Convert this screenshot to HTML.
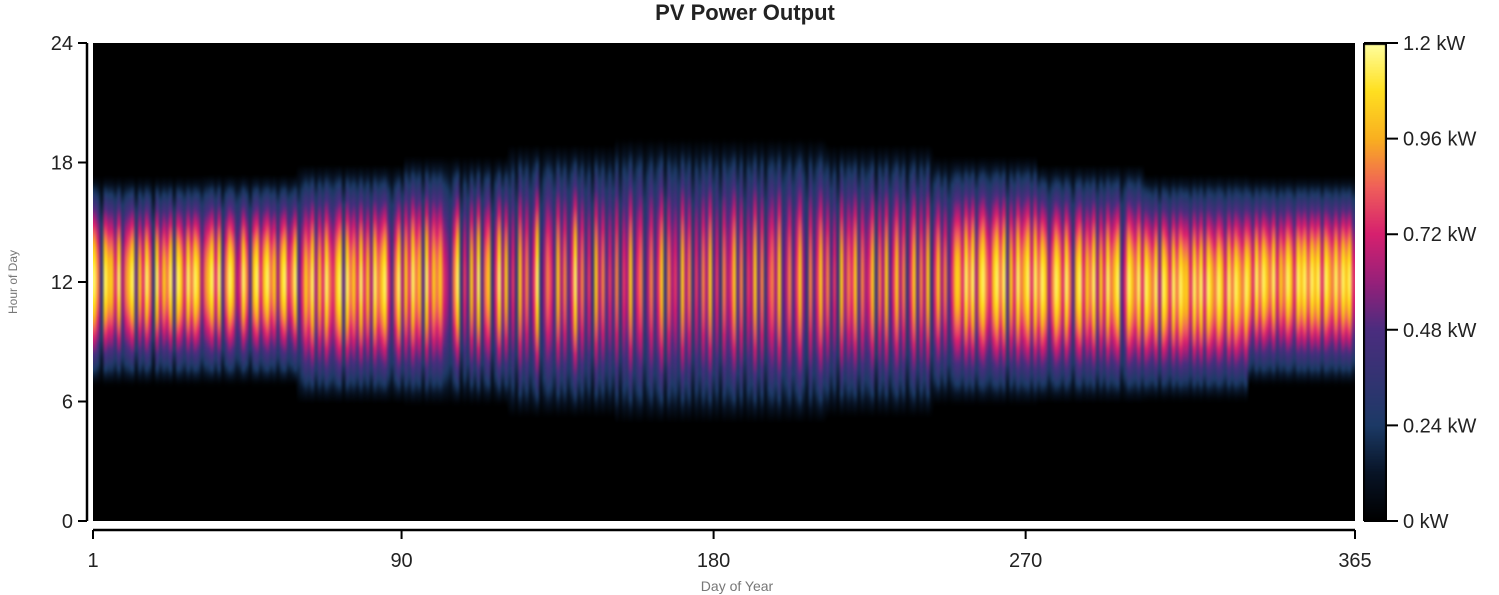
<!DOCTYPE html>
<html><head><meta charset="utf-8">
<style>
body{margin:0;background:#fff;width:1499px;height:595px;overflow:hidden;font-family:"Liberation Sans",sans-serif;}
#wrap{position:relative;width:1499px;height:595px;}
canvas{position:absolute;}
.t{position:absolute;color:#222;font-size:18px;}
</style></head><body>
<div id="wrap">
<div class="t" style="left:0;width:1490px;text-align:center;top:0;font-size:22px;font-weight:bold;">PV Power Output</div>
<canvas id="hm" width="1262" height="478" style="left:93px;top:43px;"></canvas>
<svg id="ax" width="1499" height="595" style="position:absolute;left:0;top:0"></svg>
<canvas id="cb" width="24" height="478" style="left:1363px;top:43px;"></canvas>
</div>
<script>
const months=[1,32,60,91,121,152,182,213,244,274,305,335];
const sunrise=[6.8,6.8,5.9,5.8,5.2,4.9,4.9,5.2,5.8,5.9,6.0,6.8];
const sunset=[17.3,17.4,17.9,18.3,18.9,19.2,19.2,18.9,18.3,17.9,17.4,17.3];
const clear=("97398869578948697396879498697985789694798569748968"+
"97858967946879586976894978696859789647958697849687"+
"86547936485947836958463857469357648574695746385746"+
"47365846735746837564857364758463756847365847367584"+
"57468537468574638576847568375846857368475836857468"+
"86979589768979486978969798579869748968795869789469"+
"87969879598697988697969879869798798697987968798698"+
"97989698797989697969879869798").slice(0,365).split('').map(Number);
const cbTicks=[0,0.24,0.48,0.72,0.96,1.2];
const yTicks=[0,6,12,18,24];
const xTicks=[1,90,180,270,365];
const vmax=1.2;
const stops=[[0,[0,0,0]],[0.1,[8,20,38]],[0.2,[28,58,102]],[0.4,[75,45,127]],[0.5,[150,32,122]],[0.6,[214,32,111]],[0.7,[240,96,90]],[0.8,[249,176,32]],[0.9,[255,224,32]],[1,[255,255,160]]];
function cmap(t){t=Math.max(0,Math.min(1,t));for(let i=1;i<stops.length;i++){if(t<=stops[i][0]){const a=stops[i-1],b=stops[i],f=(t-a[0])/(b[0]-a[0]);return a[1].map((v,k)=>v+(b[1][k]-v)*f);}}return stops[stops.length-1][1];}
function monthOf(d){let m=0;for(let i=0;i<12;i++)if(d>=months[i])m=i;return m;}
const W=1262,H=478;
const xs=d=>(d-1)/364*W, ys=h=>H-h/24*H;
const small=document.createElement('canvas');small.width=365;small.height=96;
const sc=small.getContext('2d');const img=sc.createImageData(365,96);
for(let d=0;d<365;d++){const m=monthOf(d+1),r=sunrise[m],s=sunset[m];
 for(let q=0;q<96;q++){const h=24-(q+0.5)/4;let v=0;
  if(h>r&&h<s){const p=Math.sin(Math.PI*(h-r)/(s-r));v=vmax*(clear[d]/9)*Math.pow(p,1.1)*0.95;}
  const c=cmap(v/vmax),i=(q*365+d)*4;img.data[i]=c[0];img.data[i+1]=c[1];img.data[i+2]=c[2];img.data[i+3]=255;}}
sc.putImageData(img,0,0);
const hc=document.getElementById('hm').getContext('2d');hc.imageSmoothingEnabled=true;hc.imageSmoothingQuality='high';hc.drawImage(small,0,0,W,H);
const cb=document.getElementById('cb').getContext('2d');
for(let y=0;y<H;y++){const c=cmap(1-y/H);cb.fillStyle=`rgb(${c[0]|0},${c[1]|0},${c[2]|0})`;cb.fillRect(0,y,24,1);}
cb.strokeStyle='#000';cb.lineWidth=2;cb.strokeRect(1,1,22,H-2);
const svg=document.getElementById('ax');const NS='http://www.w3.org/2000/svg';
function el(t,a,txt){const e=document.createElementNS(NS,t);for(const k in a)e.setAttribute(k,a[k]);if(txt!==undefined)e.textContent=txt;svg.appendChild(e);return e;}
let e=el('line',{x1:87,y1:43,x2:87,y2:521,stroke:'#000','stroke-width':2.5});


e=el('line',{x1:93,y1:530,x2:1355,y2:530,stroke:'#000','stroke-width':2.5});


yTicks.forEach(v=>{const y=43+ys(v);el('line',{x1:78,y1:y,x2:87,y2:y,stroke:'#000','stroke-width':2});
 const t=el('text',{x:73,y:y+7,'text-anchor':'end','font-size':20,fill:'#222'},String(v));
 
 });
xTicks.forEach(v=>{const x=93+xs(v);el('line',{x1:x,y1:530,x2:x,y2:539,stroke:'#000','stroke-width':2});
 const t=el('text',{x:x,y:567,'text-anchor':'middle','font-size':20,fill:'#222'},String(v));
 
 });
cbTicks.forEach(v=>{const y=43+H-(v/vmax)*H;el('line',{x1:1364,y1:y,x2:1398,y2:y,stroke:'#000','stroke-width':2});
 const t=el('text',{x:1403,y:y+7,'font-size':20,fill:'#222'},v+' kW');
 
 });
e=el('text',{x:0,y:0,transform:'translate(17,282) rotate(-90)','text-anchor':'middle','font-size':12,fill:'#777'},'Hour of Day');


e=el('text',{x:737,y:591,'text-anchor':'middle','font-size':14,fill:'#777'},'Day of Year');


</script>
</body></html>
